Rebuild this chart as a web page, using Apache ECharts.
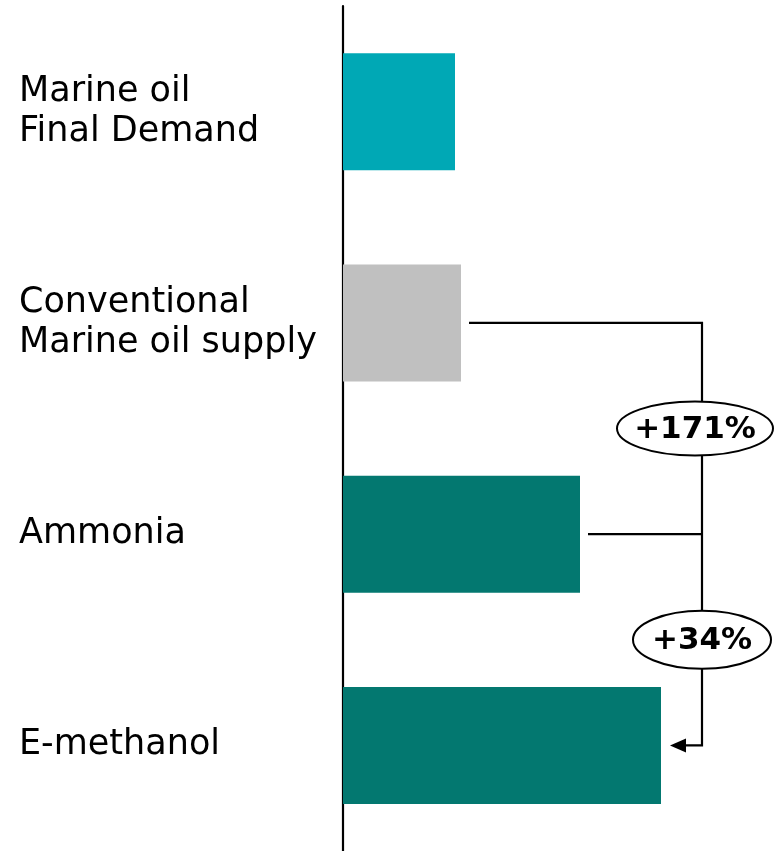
<!DOCTYPE html>
<html>
<head>
<meta charset="utf-8">
<style>
  html, body { margin: 0; padding: 0; background: #ffffff; }
  #chart { width: 774px; height: 851px; }
</style>
<script src="https://cdn.jsdelivr.net/npm/echarts@6/dist/echarts.min.js"></script>
</head>
<body>
<div id="chart"></div>
<script>
// ---- data ----
const categories = ['Marine oil\nFinal Demand', 'Conventional\nMarine oil supply', 'Ammonia', 'E-methanol'];
const values = [112, 118, 237, 318];
const barColors = ['#00A8B5', '#C0C0C0', '#037870', '#037870'];
// change annotations: [fromCategoryIndex, toCategoryIndex, label]
const changeFrom = [1, 2];
const changeLabels = ['+171%', '+34%'];
const bracketValue = 359;   // x position (axis units) of the bracket line
const axisMax = 431;

const chart = echarts.init(document.getElementById('chart'));
const FONT = 'DejaVu Sans';

function renderBracket(params, api) {
  const idx = params.dataIndex;
  if (idx !== 0) return null;
  const children = [];
  const lineStyle = { stroke: '#000', lineWidth: 2.2, fill: null };
  const xB = api.coord([bracketValue, 0])[0];
  const pConv = api.coord([values[1], 1]);
  const pAmm = api.coord([values[2], 2]);
  const pE = api.coord([values[3], 3]);
  // conventional -> bracket
  children.push({ type: 'polyline', shape: { points: [[pConv[0] + 8, pConv[1]], [xB, pConv[1]], [xB, pE[1]], [pE[0] + 24, pE[1]]] }, style: lineStyle });
  // ammonia -> bracket
  children.push({ type: 'line', shape: { x1: pAmm[0] + 8, y1: pAmm[1], x2: xB, y2: pAmm[1] }, style: lineStyle });
  // arrow head
  children.push({ type: 'polygon', shape: { points: [[pE[0] + 9, pE[1]], [pE[0] + 25, pE[1] - 7], [pE[0] + 25, pE[1] + 7]] }, style: { fill: '#000' } });
  // ellipses with labels
  const ell = [
    { cx: xB - 7, rx: 78, ry: 27 },
    { cx: xB, rx: 69, ry: 29 }
  ];
  changeFrom.forEach(function (from, i) {
    const y1 = api.coord([0, from])[1];
    const y2 = api.coord([0, from + 1])[1];
    const cy = (y1 + y2) / 2;
    children.push({ type: 'ellipse', shape: { cx: ell[i].cx, cy: cy, rx: ell[i].rx, ry: ell[i].ry }, style: { fill: '#fff', stroke: '#000', lineWidth: 2 } });
    children.push({ type: 'text', x: ell[i].cx, y: cy + 1, style: { text: changeLabels[i], fill: '#000', font: 'bold 31px ' + FONT, align: 'center', verticalAlign: 'middle' } });
  });
  return { type: 'group', children: children };
}

chart.setOption({
  animation: false,
  grid: { left: 343, right: 0, top: 6, height: 848 },
  xAxis: { type: 'value', min: 0, max: axisMax, show: false },
  yAxis: {
    type: 'category',
    inverse: true,
    data: categories,
    axisLine: { show: true, lineStyle: { color: '#000', width: 2.2 } },
    axisTick: { show: false },
    axisLabel: {
      align: 'left',
      margin: 324,
      color: '#000',
      fontFamily: FONT,
      fontSize: 35,
      lineHeight: 40
    }
  },
  series: [
    {
      type: 'bar',
      barWidth: 117,
      data: values.map(function (v, i) { return { value: v, itemStyle: { color: barColors[i] } }; })
    },
    {
      type: 'custom',
      renderItem: renderBracket,
      data: [[0, 0]],
      z: 5,
      clip: false
    }
  ]
});
</script>
</body>
</html>
